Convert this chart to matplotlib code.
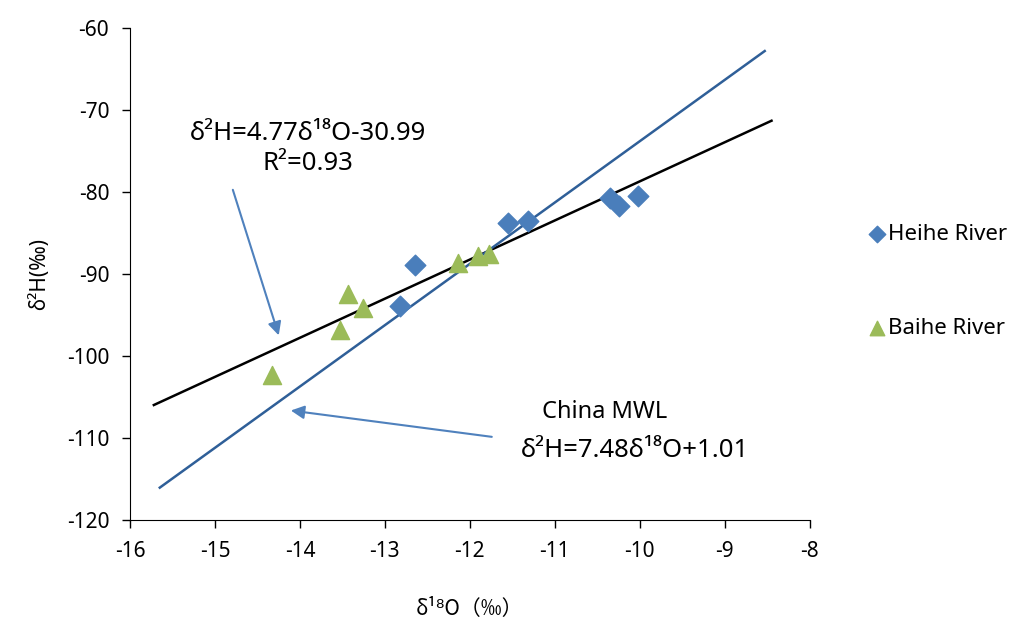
import matplotlib
matplotlib.use("Agg")
import numpy as np
import matplotlib.pyplot as plt

plt.rcParams['font.family'] = ['Noto Sans', 'DejaVu Sans']
plt.rcParams['axes.unicode_minus'] = False

# Heihe River samples (diamonds)
heihe_o = [-12.65, -12.82, -11.55, -11.32, -10.35, -10.24, -10.02]
heihe_h = [-88.9, -93.9, -83.8, -83.5, -80.7, -81.7, -80.5]

# Baihe River samples (triangles)
baihe_o = [-14.33, -13.53, -13.44, -13.26, -12.14, -11.91, -11.78]
baihe_h = [-102.3, -96.8, -92.4, -94.1, -88.7, -87.8, -87.6]

# fitted local line and China MWL
fit_slope, fit_icpt = 4.77, -30.99
fit_range = [-15.72, -8.45]
mwl_slope, mwl_icpt = 7.48, 1.01
mwl_range = [-15.65, -8.53]

xticks = list(range(-16, -7))
yticks = list(range(-120, -59, 10))

fig = plt.figure(figsize=(10.16, 6.25), dpi=100)
ax = fig.add_axes([0.128, 0.168, 0.669, 0.787])

fx = np.array(fit_range)
ax.plot(fx, fit_slope * fx + fit_icpt, color='black', lw=1.8, zorder=2)
mx = np.array(mwl_range)
ax.plot(mx, mwl_slope * mx + mwl_icpt, color='#2f5f98', lw=1.8, zorder=2)

ax.scatter(heihe_o, heihe_h, marker='D', s=110, color='#4a7ebb', label='Heihe River', zorder=3)
ax.scatter(baihe_o, baihe_h, marker='^', s=170, color='#9bbb59', label='Baihe River', zorder=3)

ax.set_xlim(-16, -8)
ax.set_ylim(-120, -60)
ax.set_xticks(xticks)
ax.set_yticks(yticks)
ax.tick_params(labelsize=15, length=6, width=1, direction='out', pad=9)
for s in ['top', 'right']:
    ax.spines[s].set_visible(False)

ax.set_ylabel('δ²H(‰)', fontsize=15, labelpad=12)
ax.set_xlabel('δ¹⁸O（‰）', fontsize=15, labelpad=26,
              family=['Noto Sans CJK SC', 'DejaVu Sans'])

# annotations
ax.text(-13.91, -72.8, 'δ²H=4.77δ¹⁸O-30.99', fontsize=18.5, ha='center', va='center')
ax.text(-13.91, -76.5, 'R²=0.93', fontsize=18.5, ha='center', va='center')
ax.annotate('', xy=(-14.24, -97.8), xytext=(-14.80, -79.4),
            arrowprops=dict(arrowstyle='-|>', color='#4f81bd', lw=1.5, mutation_scale=20))

ax.text(-10.41, -106.8, 'China MWL', fontsize=17, ha='center', va='center')
ax.text(-10.06, -111.5, 'δ²H=7.48δ¹⁸O+1.01', fontsize=18.5, ha='center', va='center')
ax.annotate('', xy=(-14.14, -106.6), xytext=(-11.71, -109.9),
            arrowprops=dict(arrowstyle='-|>', color='#4f81bd', lw=1.5, mutation_scale=20))

ax.legend(loc='upper left', bbox_to_anchor=(0.842, 0.66), bbox_transform=fig.transFigure,
          frameon=False, fontsize=16, labelspacing=3.3, handletextpad=0.05,
          handlelength=0.9, scatterpoints=1, markerscale=0.8, borderpad=0)

fig.savefig('out.png', dpi=100)
